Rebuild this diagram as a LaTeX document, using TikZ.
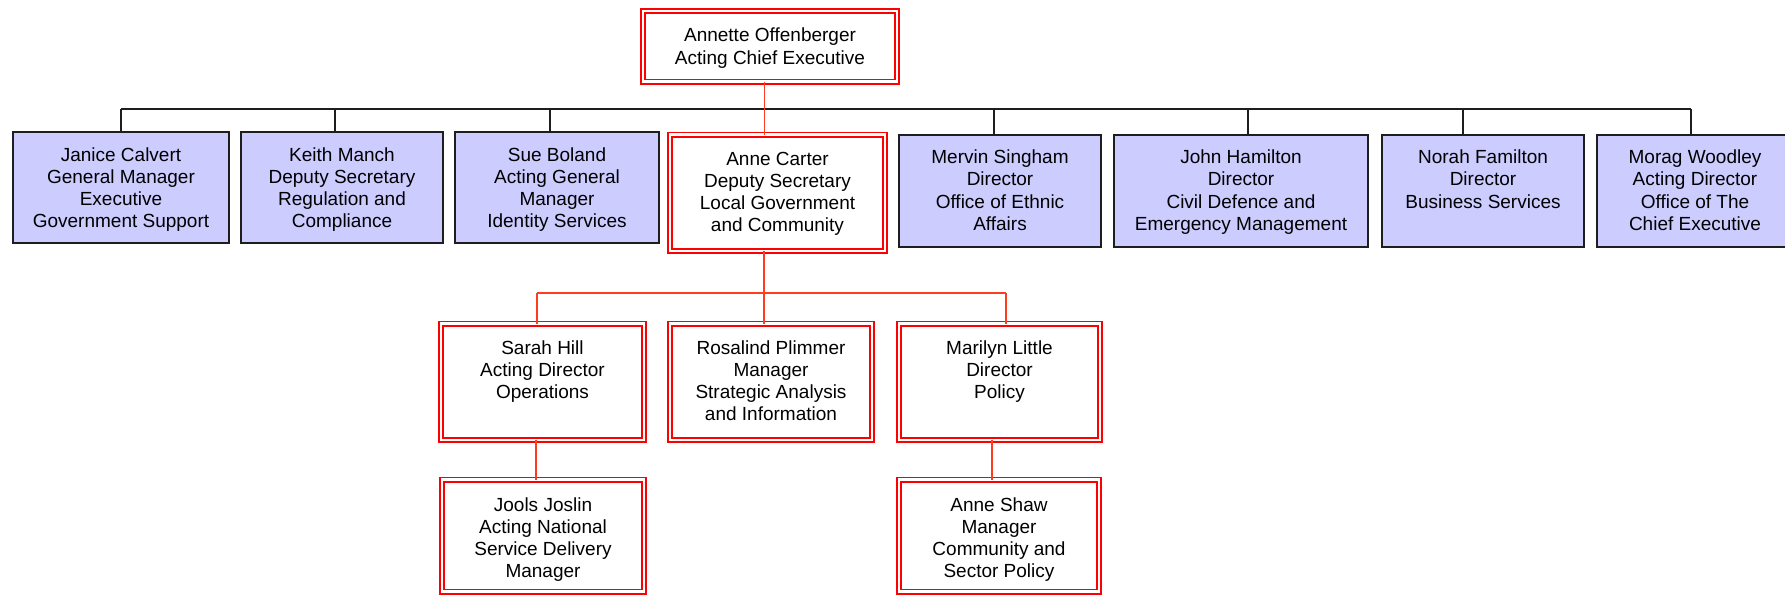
\documentclass[tikz,border=0pt]{standalone}
\usepackage{fontspec}
\setmainfont{Liberation Sans}
\definecolor{boxblue}{RGB}{204,204,255}
\definecolor{boxred}{RGB}{255,0,0}
\definecolor{linered}{RGB}{255,60,30}
\definecolor{lineblk}{RGB}{30,30,30}
\newcommand{\orgtext}[4]{\parbox[c][#2pt][t]{#1pt}{\centering\rule{0pt}{#3pt}#4}}
\tikzset{
  orgfont/.style={font=\fontsize{19pt}{22.3pt}\selectfont, text=black},
  bluebox/.style={orgfont, draw=lineblk, line width=1.4pt, fill=boxblue, inner sep=0pt, outer sep=0pt, anchor=north},
  redbox/.style={orgfont, draw=boxred, double=white, double distance=2.6pt, line width=1.7pt, fill=white, inner sep=0pt, outer sep=0pt, anchor=north},
  blk/.style={draw=lineblk, line width=1.4pt},
  rln/.style={draw=linered, line width=1.6pt}
}
\begin{document}
\begin{tikzpicture}[x=1pt, y=-1pt]
\useasboundingbox (0,0) rectangle (1785,595);
\fill[white] (0,0) rectangle (1785,595);
\clip (0,0) rectangle (1785,595);

\coordinate (bus) at (0,109);
\coordinate (rbus) at (0,293);

% top
\node[redbox] (top) at (770,11) {\orgtext{254}{70.5}{30.7}{Annette Offenberger\\Acting Chief Executive}};

% first row
\node[bluebox] (janice) at (121,132) {\orgtext{216}{111}{29}{Janice Calvert\\General Manager\\Executive\\Government Support}};
\node[bluebox] (keith) at (342,132) {\orgtext{202}{111}{29}{Keith Manch\\Deputy Secretary\\Regulation and\\Compliance}};
\node[bluebox] (sue) at (557,132) {\orgtext{204}{111}{29}{Sue Boland\\Acting General\\Manager\\Identity Services}};
\node[redbox] (carter) at (777.5,134.5) {\orgtext{215}{116.5}{30.5}{Anne Carter\\Deputy Secretary\\Local Government\\and Community}};
\node[bluebox] (mervin) at (1000,135) {\orgtext{202}{112}{28.5}{Mervin Singham\\Director\\Office of Ethnic\\Affairs}};
\node[bluebox] (john) at (1241,135) {\orgtext{254}{112}{28.5}{John Hamilton\\Director\\Civil Defence and\\Emergency Management}};
\node[bluebox] (norah) at (1483,135) {\orgtext{202}{112}{28.5}{Norah Familton\\Director\\Business Services}};
\node[bluebox] (morag) at (1695,135) {\orgtext{196}{112}{28.5}{Morag Woodley\\Acting Director\\Office of The\\Chief Executive}};

% second row
\node[redbox] (sarah) at (542.5,323.5) {\orgtext{203}{116.5}{30.5}{Sarah Hill\\Acting Director\\Operations}};
\node[redbox] (rosalind) at (771,323.5) {\orgtext{202}{116.5}{30.5}{Rosalind Plimmer\\Manager\\Strategic Analysis\\and Information}};
\node[redbox] (marilyn) at (999.5,323.5) {\orgtext{201}{116.5}{30.5}{Marilyn Little\\Director\\Policy}};

% third row
\node[redbox] (jools) at (543,479.5) {\orgtext{202}{112}{31.5}{Jools Joslin\\Acting National\\Service Delivery\\Manager}};
\node[redbox] (shaw) at (999,479.5) {\orgtext{200}{112}{31.5}{Anne Shaw\\Manager\\Community and\\Sector Policy}};

% black connectors
\foreach \n/\s in {janice/0, keith/-7, sue/-7, mervin/-6, john/7, norah/-20, morag/-4} {
  \coordinate (c\n) at ([xshift=\s pt]\n.north);
  \draw[blk] (c\n) -- (c\n |- bus);
}
\draw[blk] (cjanice |- bus) -- (cmorag |- bus);

% red connectors
\coordinate (ctop) at ([xshift=-5.5pt]top.south);
\draw[rln] (ctop) -- (ctop |- carter.north);
\coordinate (ccarter) at ([xshift=-13.5pt]carter.south);
\draw[rln] (ccarter) -- (ccarter |- rbus);
\coordinate (csarah) at ([xshift=-5.5pt]sarah.north);
\coordinate (crosalind) at ([xshift=-7pt]rosalind.north);
\coordinate (cmarilyn) at ([xshift=6.5pt]marilyn.north);
\draw[rln] (csarah |- rbus) -- (cmarilyn |- rbus);
\draw[rln] (csarah |- rbus) -- (csarah);
\draw[rln] (crosalind |- rbus) -- (crosalind);
\draw[rln] (cmarilyn |- rbus) -- (cmarilyn);
\coordinate (csarahb) at ([xshift=-6.5pt]sarah.south);
\draw[rln] (csarahb) -- (csarahb |- jools.north);
\coordinate (cmarilynb) at ([xshift=-7.5pt]marilyn.south);
\draw[rln] (cmarilynb) -- (cmarilynb |- shaw.north);
\end{tikzpicture}
\end{document}
